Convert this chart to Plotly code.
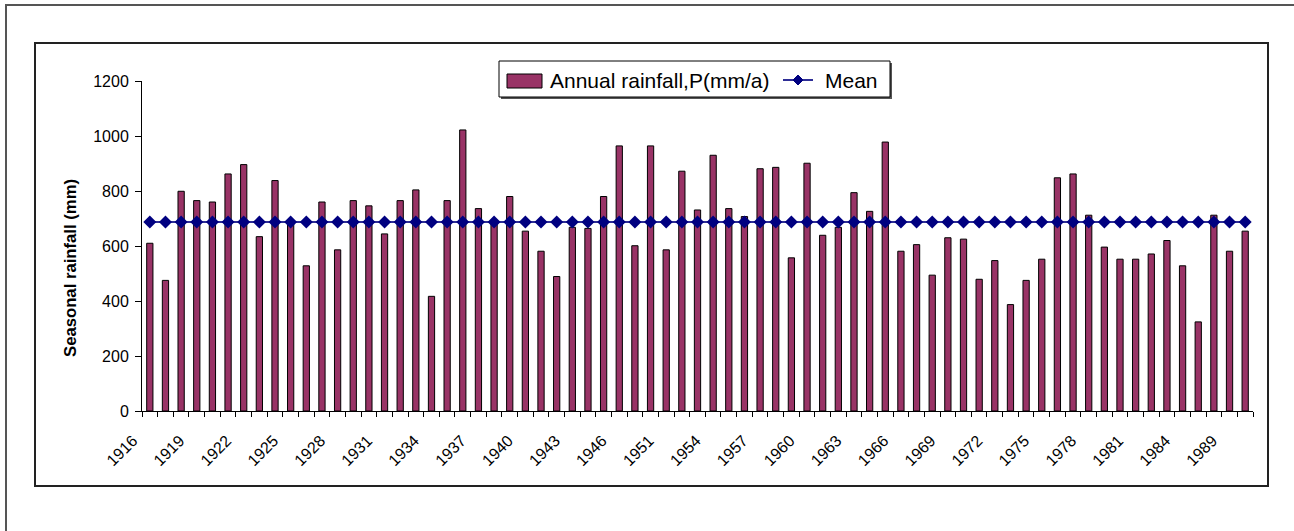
import plotly.graph_objects as go

# Years on the category axis (a few years are absent from the record)
years = ([str(y) for y in range(1916, 1947)] + ["1947", "1948"]
         + [str(y) for y in range(1951, 1985)] + ["1987", "1988", "1989", "1990"])

# Annual rainfall P (mm/a)
rainfall = [
    610, 475, 799, 765, 760, 862, 896, 634, 838, 680,
    528, 760, 586, 765, 746, 644, 765, 804, 417, 765,
    1022, 736, 690, 780, 654, 581, 489, 668, 664, 780,
    964, 601, 964, 586, 872, 731, 930, 736, 707, 881,
    886, 557, 901, 639, 668, 794, 726, 978, 581, 605,
    494, 630, 625, 479, 547, 387, 475, 552, 848, 862,
    712, 596, 552, 552, 571, 620, 528, 324, 712, 581,
    654,
]

# Long-term mean rainfall (mm)
mean_rainfall = 687

series_names = ["Annual rainfall,P(mm/a)", "Mean"]
bar_color = "#993366"
mean_color = "#000080"
mean_line_color = "#2e2e96"

positions = list(range(len(years)))
label_step = 3

W, H = 1294, 531
PL, PR, PT, PB = 142, 1253, 81, 411  # plot area in pixels


def px_x(px):
    return (px - PL) / (PR - PL)


def px_y(py):
    return (PB - py) / (PB - PT)


FONT = "Arial, Liberation Sans, sans-serif"

fig = go.Figure()
fig.add_trace(go.Bar(
    x=positions, y=rainfall, width=0.4,
    name=series_names[0], showlegend=False,
    marker=dict(color=bar_color, line=dict(color="black", width=1)),
))
fig.add_trace(go.Scatter(
    x=positions, y=[mean_rainfall] * len(years),
    mode="lines+markers", name=series_names[1], showlegend=False,
    line=dict(color=mean_line_color, width=2),
    marker=dict(symbol="diamond", size=10, color=mean_color),
))

# Legend box drawn in pixel units of the chart area
LX0, LX1, LY0, LY1 = 499, 890, 61, 97
LYC = 80


def diamond_path(cx, cy, r):
    pts = [(cx, cy - r), (cx + r, cy), (cx, cy + r), (cx - r, cy)]
    return "M " + " L ".join(f"{px_x(a)},{px_y(b)}" for a, b in pts) + " Z"


legend_shapes = [
    # shadow
    dict(type="rect", xref="paper", yref="paper",
         x0=px_x(LX0 + 2), x1=px_x(LX1 + 2), y0=px_y(LY0 + 2), y1=px_y(LY1 + 2),
         line=dict(width=0), fillcolor="#555555"),
    dict(type="rect", xref="paper", yref="paper",
         x0=px_x(LX0), x1=px_x(LX1), y0=px_y(LY0), y1=px_y(LY1),
         line=dict(color="black", width=1), fillcolor="white"),
    # bar swatch
    dict(type="rect", xref="paper", yref="paper",
         x0=px_x(507), x1=px_x(542), y0=px_y(74), y1=px_y(88),
         line=dict(color="black", width=1), fillcolor=bar_color),
    # mean swatch
    dict(type="line", xref="paper", yref="paper",
         x0=px_x(783), x1=px_x(813), y0=px_y(LYC), y1=px_y(LYC),
         line=dict(color=mean_line_color, width=2)),
    dict(type="path", xref="paper", yref="paper",
         path=diamond_path(798, LYC, 5),
         line=dict(color=mean_color, width=1), fillcolor=mean_color),
]

legend_texts = [
    dict(text=series_names[0], xref="paper", yref="paper",
         x=px_x(548), y=px_y(LYC), xanchor="left", yanchor="middle",
         showarrow=False, font=dict(family=FONT, size=21, color="black")),
    dict(text=series_names[1], xref="paper", yref="paper",
         x=px_x(823), y=px_y(LYC), xanchor="left", yanchor="middle",
         showarrow=False, font=dict(family=FONT, size=21, color="black")),
]

fig.update_layout(
    width=W, height=H,
    margin=dict(l=PL, r=W - PR, t=PT, b=H - PB),
    paper_bgcolor="white", plot_bgcolor="white",
    font=dict(family=FONT, color="black", size=16),
    showlegend=False,
    xaxis=dict(
        range=[-0.5, len(years) - 0.5],
        tickmode="array",
        tickvals=positions[::label_step],
        ticktext=years[::label_step],
        tickangle=-45, ticks="",
        ticklabelshift=-17, ticklabelstandoff=13,
        tickfont=dict(size=16),
        showline=True, linecolor="black", linewidth=1,
        showgrid=False, zeroline=False,
        minor=dict(ticks="outside", tickmode="linear", tick0=-0.5, dtick=1,
                   ticklen=5, tickcolor="black", tickwidth=1, showgrid=False),
    ),
    yaxis=dict(
        range=[0, 1200], dtick=200, tick0=0,
        ticks="outside", ticklen=6, tickcolor="black",
        ticklabelstandoff=3,
        tickfont=dict(size=16),
        showline=True, linecolor="black", linewidth=1,
        showgrid=False, zeroline=False,
    ),
    annotations=[dict(
        text="<b>Seasonal rainfall (mm)</b>", textangle=-90,
        xref="paper", yref="paper", x=px_x(70), y=px_y(268),
        xanchor="center", yanchor="middle", showarrow=False,
        font=dict(family=FONT, size=16.7, color="black"),
    )] + legend_texts,
    shapes=[
        # outer frame
        dict(type="rect", xref="paper", yref="paper",
             x0=px_x(6), x1=px_x(1310), y0=px_y(5), y1=px_y(560),
             line=dict(color="#555555", width=2), fillcolor="rgba(0,0,0,0)"),
        # chart area border
        dict(type="rect", xref="paper", yref="paper",
             x0=px_x(35), x1=px_x(1268), y0=px_y(43), y1=px_y(486),
             line=dict(color="#222222", width=2), fillcolor="rgba(0,0,0,0)"),
    ] + legend_shapes,
)

fig.write_html("out.html")
